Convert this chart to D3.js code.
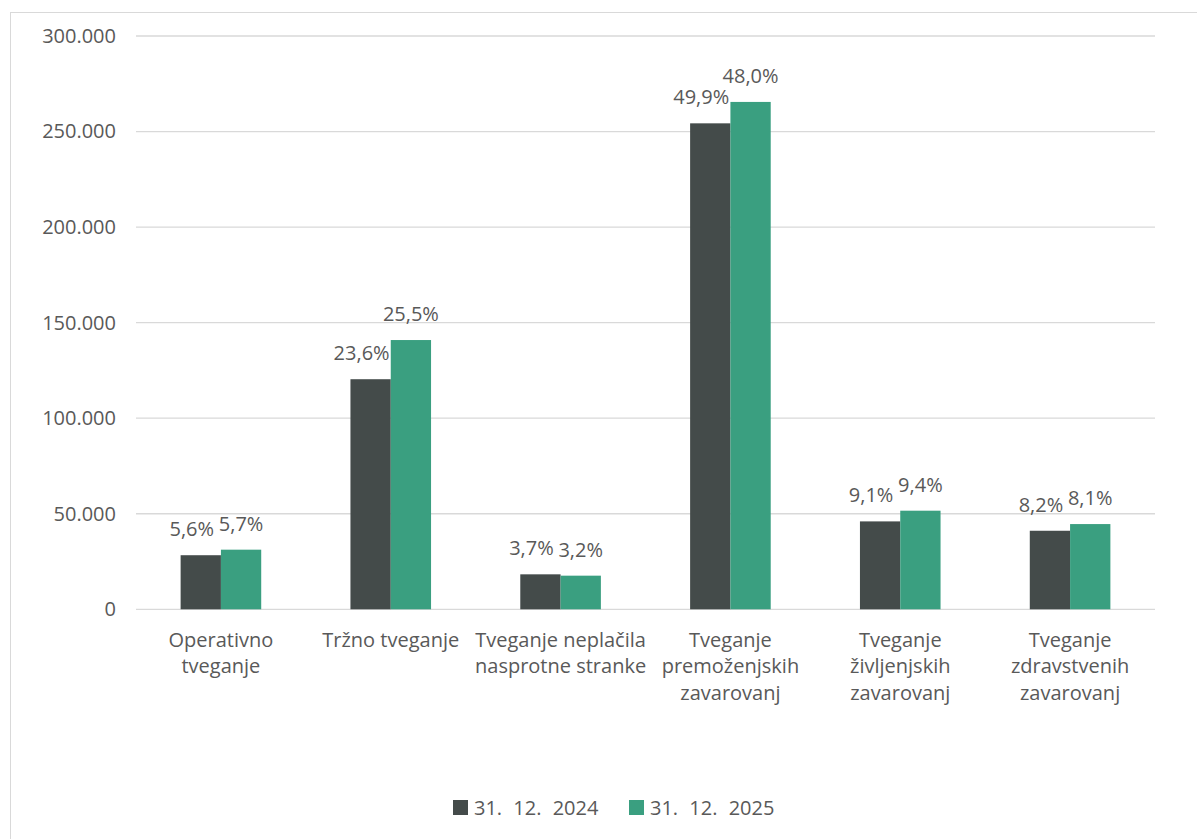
<!DOCTYPE html>
<html>
<head>
<meta charset="utf-8">
<script src="https://cdn.jsdelivr.net/npm/d3@7"></script>
<style>
  html, body { margin: 0; padding: 0; background: #ffffff; }
  svg { display: block; font-family: "Open Sans", "Noto Sans", sans-serif; }
</style>
</head>
<body>
<svg id="chart" width="1197" height="839"></svg>
<script>
// Risk categories (each entry split into the lines shown under the axis)
const categories = [
  ["Operativno", "tveganje"],
  ["Tržno tveganje"],
  ["Tveganje neplačila", "nasprotne stranke"],
  ["Tveganje", "premoženjskih", "zavarovanj"],
  ["Tveganje", "življenjskih", "zavarovanj"],
  ["Tveganje", "zdravstvenih", "zavarovanj"]
];
const seriesNames = ["31. 12. 2024", "31. 12. 2025"];
const values2024 = [28300, 120400, 18300, 254300, 46000, 41100];
const values2025 = [31200, 140900, 17600, 265500, 51600, 44600];
const shares2024 = ["5,6%", "23,6%", "3,7%", "49,9%", "9,1%", "8,2%"];
const shares2025 = ["5,7%", "25,5%", "3,2%", "48,0%", "9,4%", "8,1%"];
const yTicks = [0, 50000, 100000, 150000, 200000, 250000, 300000];

const colors = ["#444b4a", "#3a9f80"];
const textColor = "#595959";
const gridColor = "#d9d9d9";

const svg = d3.select("#chart");

// Outer chart frame
svg.append("rect")
  .attr("x", 10.5).attr("y", 12.5)
  .attr("width", 1300).attr("height", 1000)
  .attr("fill", "none").attr("stroke", gridColor).attr("stroke-width", 1);

const plot = { left: 136, right: 1155, top: 36, bottom: 609.3 };

const y = d3.scaleLinear().domain([0, 300000]).range([plot.bottom, plot.top]);
const x = d3.scaleBand()
  .domain(d3.range(categories.length))
  .range([plot.left, plot.right])
  .paddingInner(0).paddingOuter(0);

const barW = 40.3;
const xs = d3.scaleBand()
  .domain([0, 1])
  .range([x.bandwidth() / 2 - barW, x.bandwidth() / 2 + barW]);

// Thousands separated with a dot
const fmt = d3.formatLocale({ decimal: ",", thousands: ".", grouping: [3], currency: ["", " €"] }).format(",");

// Gridlines
svg.append("g")
  .selectAll("line")
  .data(yTicks)
  .join("line")
  .attr("x1", plot.left).attr("x2", plot.right)
  .attr("y1", d => y(d)).attr("y2", d => y(d))
  .attr("stroke", gridColor).attr("stroke-width", 1.3);

// Y axis
const yAxis = svg.append("g")
  .attr("transform", `translate(${plot.left},0)`)
  .call(d3.axisLeft(y).tickValues(yTicks).tickFormat(fmt).tickSize(0).tickPadding(20));
yAxis.select(".domain").remove();
yAxis.selectAll("text")
  .attr("fill", textColor)
  .style("font-size", "20px")
  .style("font-family", "'Open Sans', sans-serif");

// Bars
const series = [values2024, values2025];
const shares = [shares2024, shares2025];
const groups = svg.append("g")
  .selectAll("g")
  .data(categories.map((c, i) => i))
  .join("g")
  .attr("transform", i => `translate(${x(i)},0)`);

groups.selectAll("rect")
  .data(i => series.map((s, k) => ({ k, v: s[i] })))
  .join("rect")
  .attr("x", d => xs(d.k))
  .attr("width", xs.bandwidth())
  .attr("y", d => y(d.v))
  .attr("height", d => y(0) - y(d.v))
  .attr("fill", d => colors[d.k]);

// Share labels above the bars
groups.selectAll("text.share")
  .data(i => series.map((s, k) => ({ k, v: s[i], t: shares[k][i] })))
  .join("text")
  .attr("class", "share")
  .attr("x", d => xs(d.k) + xs.bandwidth() / 2 + (d.k === 0 ? -9 : 0))
  .attr("y", d => y(d.v) - 19)
  .attr("text-anchor", "middle")
  .attr("fill", textColor)
  .style("font-size", "20px")
  .text(d => d.t);

// Category labels
const catLabels = svg.append("g")
  .selectAll("text")
  .data(categories)
  .join("text")
  .attr("text-anchor", "middle")
  .attr("fill", textColor)
  .style("font-size", "20px")
  .attr("transform", (d, i) => `translate(${x(i) + x.bandwidth() / 2},646.7)`);
catLabels.selectAll("tspan")
  .data(d => d)
  .join("tspan")
  .attr("x", 0)
  .attr("y", (d, j) => j * 26.7)
  .text(d => d);

// Legend
const legendX = [453, 629];
const legend = svg.append("g")
  .selectAll("g")
  .data(seriesNames)
  .join("g")
  .attr("transform", (d, i) => `translate(${legendX[i]},800)`);
legend.append("rect")
  .attr("width", 15).attr("height", 15)
  .attr("fill", (d, i) => colors[i]);
legend.append("text")
  .attr("x", 21).attr("y", 15)
  .attr("fill", textColor)
  .style("font-size", "20px")
  .style("word-spacing", "6px")
  .text(d => d);
</script>
</body>
</html>
